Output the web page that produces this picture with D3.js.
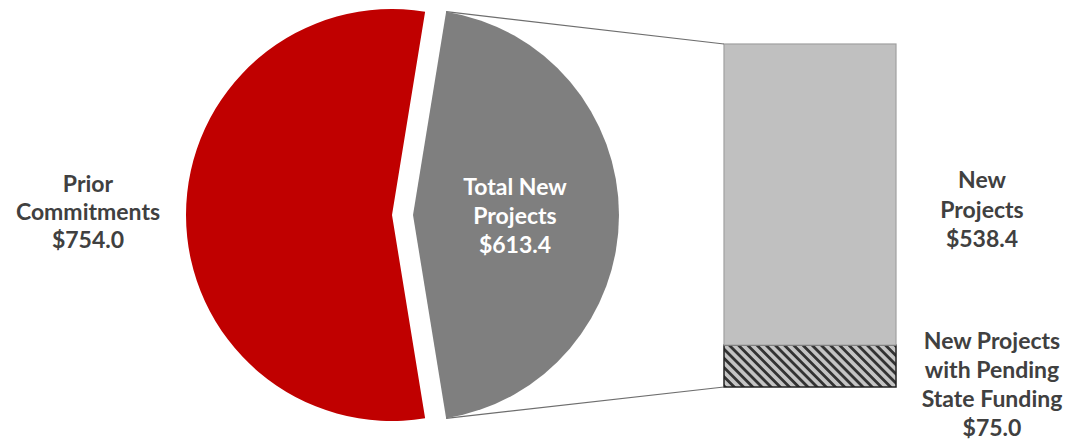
<!DOCTYPE html>
<html>
<head>
<meta charset="utf-8">
<script src="https://cdn.jsdelivr.net/npm/d3@7"></script>
<style>
  html, body { margin: 0; padding: 0; background: #ffffff; }
  svg { display: block; }
  text { font-family: "Lato", "Open Sans", sans-serif; font-weight: 700; }
</style>
</head>
<body>
<svg id="chart" width="1073" height="446"></svg>
<script>
// ---- data ----
const pieCategories = ["Prior Commitments", "Total New Projects"];
const pieValues = [754.0, 613.4];
const pieLabelLines = [["Prior", "Commitments", "$754.0"], ["Total New", "Projects", "$613.4"]];
const barCategories = ["New Projects with Pending State Funding", "New Projects"];
const barValues = [75.0, 538.4];
const barLabelLines = [["New Projects", "with Pending", "State Funding", "$75.0"], ["New", "Projects", "$538.4"]];

// ---- layout ----
const svg = d3.select("#chart");
const cx = 402.5, cy = 215, R = 206, explode = 10.5;
const pieColors = ["#c00000", "#7f7f7f"];

const total = d3.sum(pieValues);
const greyAngle = 2 * Math.PI * pieValues[1] / total;
const start = Math.PI / 2 + greyAngle / 2;

const pie = d3.pie().sort(null).startAngle(start).endAngle(start + 2 * Math.PI);
const arcs = pie(pieValues);
const arcGen = d3.arc().innerRadius(0).outerRadius(R);

function offsetOf(d) {
  const mid = (d.startAngle + d.endAngle) / 2;
  return [Math.sin(mid) * explode, -Math.cos(mid) * explode];
}

const pieG = svg.append("g").attr("transform", `translate(${cx},${cy})`);
pieG.selectAll("path.slice")
  .data(arcs)
  .join("path")
  .attr("class", "slice")
  .attr("d", arcGen)
  .attr("fill", (d, i) => pieColors[i])
  .attr("transform", d => { const o = offsetOf(d); return `translate(${o[0]},${o[1]})`; });

// ---- bar ----
const barX = 724, barW = 172;
const barTotal = d3.sum(barValues);
const y = d3.scaleLinear().domain([0, barTotal]).range([387, 44]);
const stackData = [];
let acc = 0;
barValues.forEach((v, i) => { stackData.push({ i, y0: acc, y1: acc + v }); acc += v; });

const defs = svg.append("defs");
const pat = defs.append("pattern")
  .attr("id", "hatch")
  .attr("patternUnits", "userSpaceOnUse")
  .attr("width", 6.5).attr("height", 6.5)
  .attr("patternTransform", "rotate(45)");
pat.append("rect").attr("width", 6.5).attr("height", 6.5).attr("fill", "#c4c4c4");
pat.append("rect").attr("x", 0).attr("y", 0).attr("width", 6.5).attr("height", 2.8).attr("fill", "#333333");

const barG = svg.append("g");
barG.selectAll("rect.seg")
  .data(stackData)
  .join("rect")
  .attr("class", "seg")
  .attr("x", barX)
  .attr("width", barW)
  .attr("y", d => y(d.y1))
  .attr("height", d => y(d.y0) - y(d.y1))
  .attr("fill", d => d.i === 0 ? "url(#hatch)" : "#c0c0c0")
  .attr("stroke", d => d.i === 0 ? "#222222" : "#a0a0a0")
  .attr("stroke-width", d => d.i === 0 ? 1.5 : 1.2);

// ---- connector lines ----
const grey = arcs[1];
const go = offsetOf(grey);
function edgePoint(a) { return [cx + go[0] + Math.sin(a) * R, cy + go[1] - Math.cos(a) * R]; }
const pTop = edgePoint(grey.startAngle);
const pBot = edgePoint(grey.endAngle);
svg.append("line")
  .attr("x1", pTop[0]).attr("y1", pTop[1])
  .attr("x2", barX).attr("y2", y(barTotal))
  .attr("stroke", "#6e6e6e").attr("stroke-width", 1.2);
svg.append("line")
  .attr("x1", pBot[0]).attr("y1", pBot[1])
  .attr("x2", barX).attr("y2", y(0))
  .attr("stroke", "#6e6e6e").attr("stroke-width", 1.2);

// ---- labels ----
function multiLabel(lines, x, yFirst, lh, color, size) {
  const t = svg.append("text")
    .attr("text-anchor", "middle")
    .attr("fill", color)
    .style("font-size", size + "px");
  lines.forEach((l, i) => {
    t.append("tspan").attr("x", x).attr("y", yFirst + i * lh).text(l);
  });
}
multiLabel(pieLabelLines[0], 88, 192, 28, "#404040", 23);
multiLabel(pieLabelLines[1], 515, 195, 29, "#ffffff", 23);
multiLabel(barLabelLines[1], 982, 188, 29.5, "#404040", 23);
multiLabel(barLabelLines[0], 992, 349, 29, "#404040", 23);
</script>
</body>
</html>
